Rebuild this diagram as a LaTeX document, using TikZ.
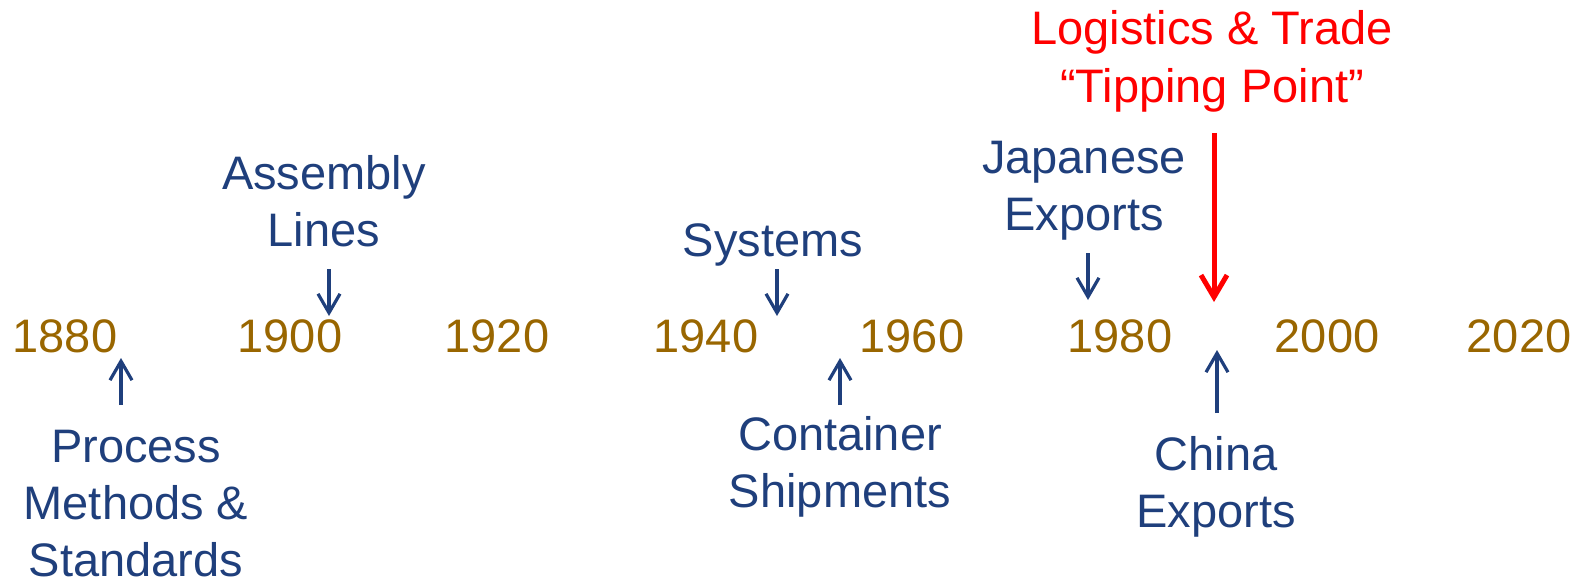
\documentclass[tikz,border=0pt]{standalone}
\usepackage{fontspec}
\setmainfont{Liberation Sans}
\usetikzlibrary{arrows.meta}
\definecolor{yeargold}{HTML}{996600}
\definecolor{evblue}{HTML}{1F3F7C}
\definecolor{tipred}{HTML}{FF0000}
\begin{document}
\begin{tikzpicture}[x=1pt,y=-1pt,
  yearlbl/.style={anchor=base,inner sep=0pt,text=yeargold,font=\fontsize{47}{57}\selectfont},
  evlbl/.style={anchor=base,inner sep=0pt,align=center,text=evblue,font=\fontsize{47}{57}\selectfont},
  redlbl/.style={anchor=base,inner sep=0pt,align=center,text=tipred,font=\fontsize{47}{58}\selectfont},
  evarrow/.style={draw=evblue,line width=3.2pt,-{Straight Barb[length=19pt,width=22pt,line width=3.2pt]}},
  redarrow/.style={draw=tipred,line width=5pt,-{Straight Barb[length=22pt,width=26pt,line width=5pt]}}]
\path[use as bounding box] (0,0) rectangle (1579,580);
% years
\node[yearlbl] (y1880) at (65,352) {1880};
\node[yearlbl] (y1900) at (290,352) {1900};
\node[yearlbl] (y1920) at (497,352) {1920};
\node[yearlbl] (y1940) at (706,352) {1940};
\node[yearlbl] (y1960) at (912,352) {1960};
\node[yearlbl] (y1980) at (1120,352) {1980};
\node[yearlbl] (y2000) at (1327,352) {2000};
\node[yearlbl] (y2020) at (1519,352) {2020};
% labels (base = baseline of last line)
\node[evlbl] (assembly) at (324,247) {Assembly\\Lines};
\node[evlbl] (process) at (136,576) {Process\\Methods \&\\Standards};
\node[evlbl] (systems) at (773,256) {Systems};
\node[evlbl] (container) at (840,507) {Container\\Shipments};
\node[evlbl] (japanese) at (1084,230) {Japanese\\Exports};
\node[evlbl] (china) at (1216,527) {China\\Exports};
\node[redlbl] (tipping) at (1212,103) {Logistics \& Trade\\“Tipping Point”};
% arrow end points
\coordinate (pA) at (121,405); \coordinate (pB) at (121,358);
\coordinate (aA) at (329,269); \coordinate (aB) at (329,316);
\coordinate (sA) at (777,269); \coordinate (sB) at (777,316);
\coordinate (cA) at (840,405); \coordinate (cB) at (840,358);
\coordinate (jA) at (1088,253); \coordinate (jB) at (1088,300);
\coordinate (chA) at (1217,413); \coordinate (chB) at (1217,350);
\coordinate (rA) at (1214,133); \coordinate (rB) at (1214,302);
\draw[evarrow] (pA) -- (pB);
\draw[evarrow] (aA) -- (aB);
\draw[evarrow] (sA) -- (sB);
\draw[evarrow] (cA) -- (cB);
\draw[evarrow] (jA) -- (jB);
\draw[evarrow] (chA) -- (chB);
\draw[redarrow] (rA) -- (rB);
\end{tikzpicture}
\end{document}
